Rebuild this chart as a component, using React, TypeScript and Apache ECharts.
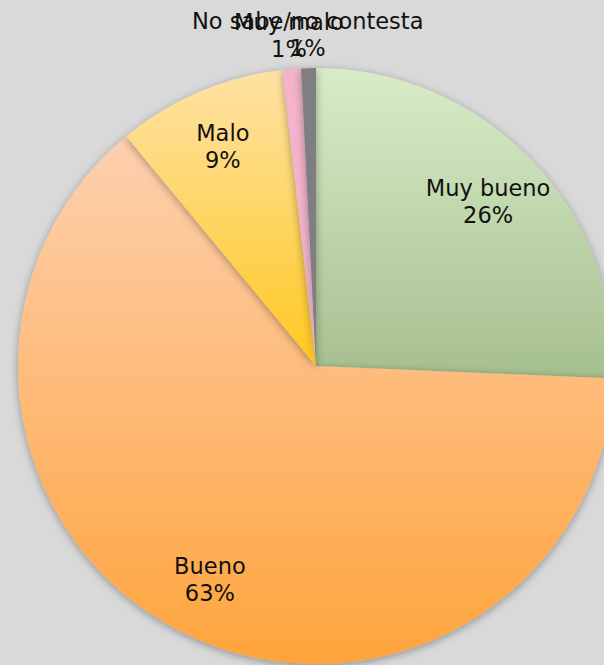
import React, { useEffect, useRef } from "react";
import * as echarts from "echarts";

const categories = ["Muy bueno", "Bueno", "Malo", "Muy malo", "No sabe/no contesta"];
const values = [25.7, 63.4, 9.2, 1.0, 0.8];
const topColors = ["#d8ecc8", "#fdd0b0", "#fee2a5", "#f4b3cb", "#7f7f7f"];
const bottomColors = ["#a6bf8f", "#ffa43c", "#ffc820", "#f4b3cb", "#7f7f7f"];
const outsideLabel = [false, false, false, true, true];

const CENTER: [number, number] = [316, 366];
const RADIUS = 298;

export default function App() {
  const ref = useRef<HTMLDivElement>(null);
  useEffect(() => {
    if (!ref.current) return;
    const chart = echarts.init(ref.current, undefined, { renderer: "svg" });
    const total = values.reduce((a, b) => a + b, 0);
    const mids: number[] = [];
    let acc = 0;
    values.forEach((v) => {
      mids.push(((acc + v / 2) / total) * Math.PI * 2);
      acc += v;
    });
    chart.setOption({
      animation: false,
      backgroundColor: "#d9d9d9",
      series: [
        {
          type: "pie",
          center: CENTER,
          radius: RADIUS,
          startAngle: 90,
          clockwise: true,
          avoidLabelOverlap: false,
          emphasis: { disabled: true },
          labelLine: { show: false },
          label: {
            show: true,
            position: "inside",
            color: "#111",
            fontFamily: "DejaVu Sans",
            fontSize: 22.5,
            lineHeight: 27,
            align: "center",
            formatter: (p: any) => `${p.name}\n${Math.round((p.value / total) * 100)}%`,
          },
          labelLayout: (p: any) => {
            const i = p.dataIndex;
            const r = outsideLabel[i] ? RADIUS + 34 : RADIUS * 0.8;
            const a = mids[i];
            return {
              x: CENTER[0] + r * Math.sin(a),
              y: CENTER[1] - r * Math.cos(a),
              align: "center",
              verticalAlign: "middle",
            };
          },
          itemStyle: {
            shadowBlur: 8,
            shadowColor: "rgba(0,0,0,0.35)",
            shadowOffsetY: 2,
          },
          data: categories.map((name, i) => ({
            name,
            value: values[i],
            itemStyle: {
              color: new echarts.graphic.LinearGradient(0, 0, 0, 1, [
                { offset: 0, color: topColors[i] },
                { offset: 1, color: bottomColors[i] },
              ]),
            },
          })),
        },
      ],
    });
    return () => chart.dispose();
  }, []);
  return (
    <div
      ref={ref}
      style={{ position: "fixed", left: 0, top: 0, width: 604, height: 665 }}
    />
  );
}
